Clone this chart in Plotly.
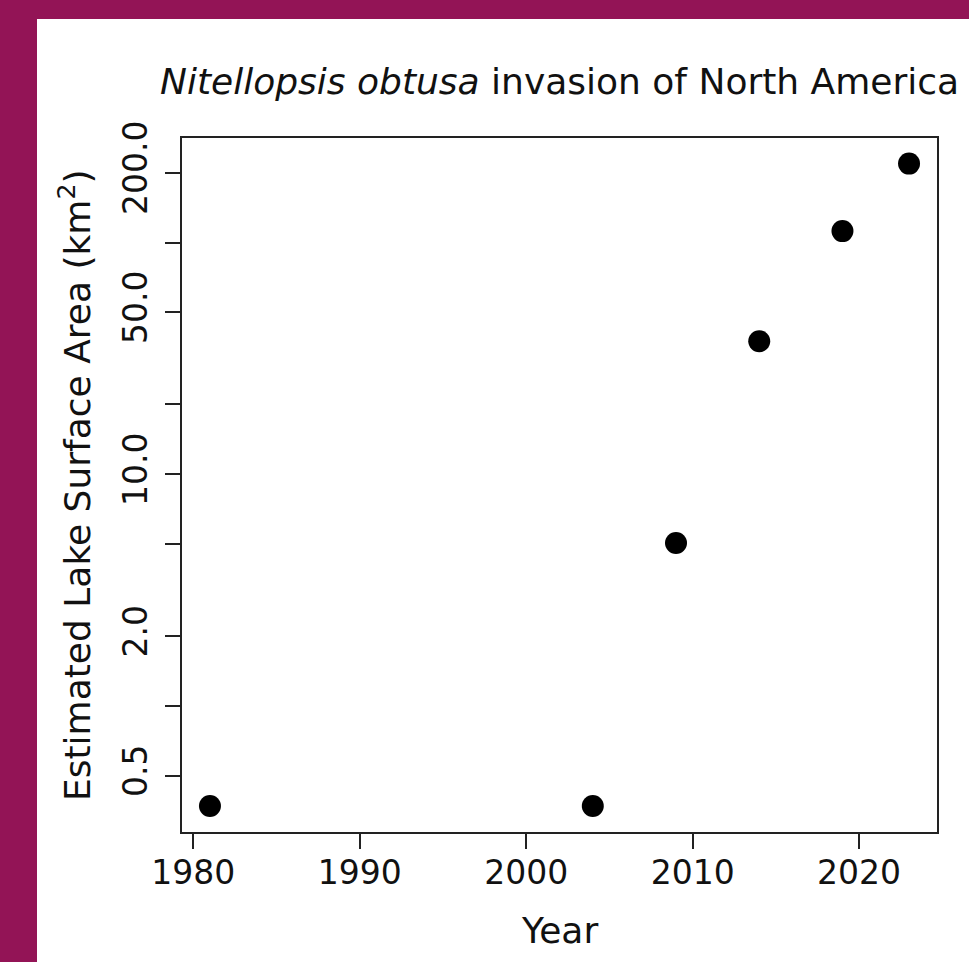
import plotly.graph_objects as go

# Estimated lake surface area invaded by Nitellopsis obtusa, by survey year
years = [1981, 2004, 2009, 2014, 2019, 2023]
area_km2 = [0.37, 0.37, 5.05, 37.5, 112.0, 219.0]

y_tickvals = [0.5, 2, 10, 50, 200]
y_ticktext = ["0.5", "2.0", "10.0", "50.0", "200.0"]
y_minorvals = [1, 5, 20, 100]
x_tickvals = [1980, 1990, 2000, 2010, 2020]

FONT = "DejaVu Sans, Verdana, sans-serif"
TICK_FS = 33
TITLE_FS = 36
MAROON = "#931456"
INK = "#111111"

W, H = 969, 962
ML, MR, MT, MB = 182, 32, 138, 130
PW, PH = W - ML - MR, H - MT - MB


def px_x(px):
    return (px - ML) / PW


def px_y(py):
    return (H - MB - py) / PH


fig = go.Figure()
fig.add_trace(go.Scatter(
    x=years, y=area_km2, mode="markers",
    marker=dict(symbol="circle", size=22, color="black", line=dict(width=0)),
    showlegend=False, hoverinfo="x+y",
))

axis_common = dict(
    showline=True, linecolor="#222222", linewidth=1.6, mirror=True,
    ticks="outside", ticklen=15, tickwidth=1.6, tickcolor="#222222",
    showgrid=False, zeroline=False,
    tickfont=dict(family=FONT, size=TICK_FS, color=INK),
)

fig.update_xaxes(
    range=[1979.32, 2024.68], tickmode="array", tickvals=x_tickvals,
    ticklabelstandoff=-4,
    **axis_common,
)
fig.update_yaxes(
    type="log", range=[-0.544, 2.451], tickmode="array",
    tickvals=y_tickvals, ticktext=y_ticktext, tickangle=-90,
    ticklabelstandoff=5,
    minor=dict(tickmode="array", tickvals=y_minorvals, ticks="outside",
               ticklen=15, tickwidth=1.6, tickcolor="#222222", showgrid=False),
    **axis_common,
)

# maroon frame along the top and left edges
fig.add_shape(type="rect", xref="paper", yref="paper", layer="below",
              x0=px_x(-5), x1=px_x(37), y0=px_y(H + 5), y1=px_y(-5),
              fillcolor=MAROON, line=dict(width=0))
fig.add_shape(type="rect", xref="paper", yref="paper", layer="below",
              x0=px_x(-5), x1=px_x(W + 5), y0=px_y(19), y1=px_y(-5),
              fillcolor=MAROON, line=dict(width=0))

fig.add_annotation(
    text="<i>Nitellopsis obtusa</i> invasion of North America",
    xref="paper", yref="paper", x=0.5, y=px_y(82),
    xanchor="center", yanchor="middle", showarrow=False,
    font=dict(family=FONT, size=TITLE_FS, color=INK),
)
fig.add_annotation(
    text="Year", xref="paper", yref="paper", x=0.5, y=px_y(930),
    xanchor="center", yanchor="middle", showarrow=False,
    font=dict(family=FONT, size=TITLE_FS, color=INK),
)
fig.add_annotation(
    text="Estimated Lake Surface Area (km<sup>2</sup>)",
    xref="paper", yref="paper", x=px_x(75), y=0.5, textangle=-90,
    xanchor="center", yanchor="middle", showarrow=False,
    font=dict(family=FONT, size=TITLE_FS, color=INK),
)

fig.update_layout(
    width=W, height=H,
    margin=dict(l=ML, r=MR, t=MT, b=MB, pad=0),
    paper_bgcolor="white", plot_bgcolor="white",
    font=dict(family=FONT, size=TICK_FS),
)

fig.write_html("out.html")
